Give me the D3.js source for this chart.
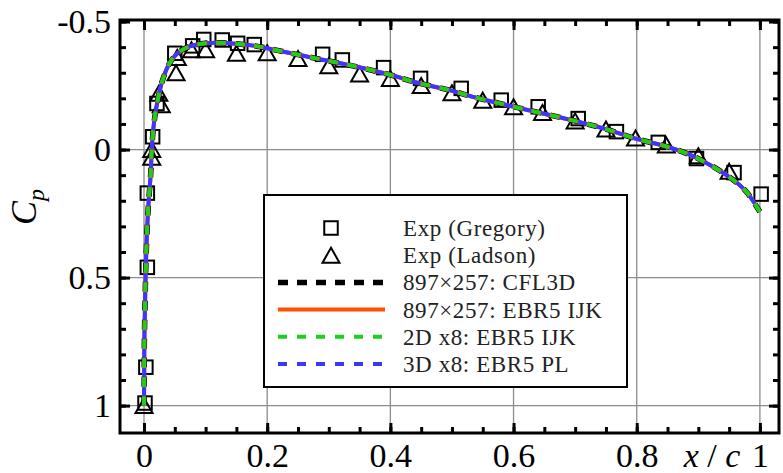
<!DOCTYPE html>
<html>
<head>
<meta charset="utf-8">
<script src="https://cdn.jsdelivr.net/npm/d3@7"></script>
<style>
  body { margin: 0; background: #fff; }
  svg { display: block; }
</style>
</head>
<body>
<script>
// Valores (x/c, Cp)
const gregoryX  = [0.0016, 0.003, 0.0054, 0.0054, 0.014, 0.021, 0.050, 0.079, 0.097, 0.127, 0.152, 0.179,
                   0.290, 0.322, 0.389, 0.449, 0.515, 0.580, 0.640, 0.705, 0.767, 0.835, 0.897, 0.958, 1.002];
const gregoryCp = [0.99, 0.85, 0.46, 0.17, -0.05, -0.18, -0.376, -0.405, -0.43, -0.428, -0.415, -0.41,
                   -0.372, -0.35, -0.32, -0.278, -0.239, -0.193, -0.167, -0.121, -0.07, -0.028, 0.035, 0.09, 0.174];

const ladsonX  = [0.0, 0.0125, 0.0125, 0.024, 0.028, 0.052, 0.054, 0.077, 0.100, 0.150, 0.200, 0.250, 0.300,
                  0.350, 0.400, 0.450, 0.500, 0.550, 0.600, 0.647, 0.700, 0.750, 0.798, 0.848, 0.900, 0.950];
const ladsonCp = [1.0, 0.0, 0.03, -0.22, -0.175, -0.30, -0.36, -0.39, -0.39, -0.376, -0.378, -0.356, -0.327,
                  -0.295, -0.278, -0.25, -0.222, -0.193, -0.167, -0.145, -0.112, -0.08, -0.045, -0.018, 0.024, 0.085];

// Las cuatro soluciones CFD coinciden a la escala de la figura
const cfdX  = [0.0, 0.0003, 0.0006, 0.0016, 0.0027, 0.0044, 0.007, 0.011, 0.0125, 0.016, 0.022, 0.030, 0.041,
               0.054, 0.073, 0.100, 0.122, 0.154, 0.180, 0.225, 0.279, 0.333, 0.401, 0.442, 0.496, 0.534,
               0.599, 0.642, 0.696, 0.750, 0.798, 0.848, 0.881, 0.919, 0.957, 0.978, 1.0];
const cfdCp = [1.0, 0.87, 0.74, 0.61, 0.48, 0.35, 0.22, 0.09, 0.0, -0.10, -0.19, -0.27, -0.335,
               -0.375, -0.402, -0.415, -0.417, -0.412, -0.405, -0.383, -0.356, -0.330, -0.291, -0.262, -0.232, -0.206,
               -0.168, -0.144, -0.114, -0.080, -0.043, -0.012, 0.015, 0.060, 0.119, 0.165, 0.243];

const xTicks = [0, 0.2, 0.4, 0.6, 0.8, 1];
const yTicks = [-0.5, 0, 0.5, 1];
const xMinor = d3.range(0, 1.0001, 0.05);
const yMinor = d3.range(-0.5, 1.0001, 0.1);

const legendLabels = ["Exp (Gregory)", "Exp (Ladson)", "897×257: CFL3D", "897×257: EBR5 IJK",
                      "2D x8: EBR5 IJK", "3D x8: EBR5 PL"];

const width = 783, height = 473;
const L = 120, R = 779, T = 20, B = 433;
const serif = "'Liberation Serif', 'DejaVu Serif', serif";
const tickFont = 34;

const x = d3.scaleLinear().domain([-0.039, 1.031]).range([L, R]);
const y = d3.scaleLinear().domain([-0.506, 1.107]).range([T, B]);

const svg = d3.select("body").append("svg")
  .attr("width", width)
  .attr("height", height)
  .style("font-family", serif);

// Rejilla
const grid = svg.append("g").attr("stroke", "#8c8c8c").attr("stroke-width", 1.3);
grid.selectAll("line.v").data(xTicks).join("line")
  .attr("x1", d => x(d)).attr("x2", d => x(d)).attr("y1", T).attr("y2", B);
grid.selectAll("line.h").data(yTicks.filter(d => d > -0.5)).join("line")
  .attr("x1", L).attr("x2", R).attr("y1", d => y(d)).attr("y2", d => y(d));

// Marcadores experimentales
const sq = 13.5;
const triPath = "M0,-7.5L8.5,7.5L-8.5,7.5Z";

svg.append("g")
  .selectAll("rect")
  .data(d3.zip(gregoryX, gregoryCp))
  .join("rect")
  .attr("x", d => x(d[0]) - sq / 2)
  .attr("y", d => y(d[1]) - sq / 2)
  .attr("width", sq).attr("height", sq)
  .attr("fill", "none").attr("stroke", "#000").attr("stroke-width", 2);

svg.append("g")
  .selectAll("path")
  .data(d3.zip(ladsonX, ladsonCp))
  .join("path")
  .attr("d", triPath)
  .attr("transform", d => `translate(${x(d[0])},${y(d[1])})`)
  .attr("fill", "none").attr("stroke", "#000").attr("stroke-width", 2);

// Curvas CFD
const series = [
  {label: legendLabels[2], color: "#000", width: 5.5, dash: "10,9", offset: 0},
  {label: legendLabels[3], color: "#ff4f00", width: 4, dash: null, offset: 0},
  {label: legendLabels[4], color: "#1ccf1c", width: 4, dash: "9,10", offset: 0},
  {label: legendLabels[5], color: "#3838ff", width: 4, dash: "9,10", offset: 9.5},
];

const line = d3.line()
  .x(d => x(d[0]))
  .y(d => y(d[1]))
  .curve(d3.curveCatmullRom.alpha(0.5));

const cfd = d3.zip(cfdX, cfdCp);
svg.append("g")
  .selectAll("path")
  .data(series)
  .join("path")
  .attr("d", () => line(cfd))
  .attr("fill", "none")
  .attr("stroke", d => d.color)
  .attr("stroke-width", d => d.width)
  .attr("stroke-dasharray", d => d.dash)
  .attr("stroke-dashoffset", d => d.offset);

// Ejes: marcas hacia dentro en los cuatro lados
function styleAxis(g) {
  g.select(".domain").remove();
  g.selectAll(".tick line").attr("stroke", "#000").attr("stroke-width", 3);
  g.selectAll(".tick text").attr("fill", "#000").attr("font-size", tickFont).attr("font-family", serif);
}

svg.append("g").attr("transform", `translate(0,${B})`)
  .call(d3.axisBottom(x).tickValues(xMinor).tickSize(-6).tickFormat(""))
  .call(styleAxis);
svg.append("g").attr("transform", `translate(0,${B})`)
  .call(d3.axisBottom(x).tickValues(xTicks).tickSize(-10).tickPadding(10).tickFormat(d => String(d)))
  .call(styleAxis);
svg.append("g").attr("transform", `translate(0,${T})`)
  .call(d3.axisTop(x).tickValues(xMinor).tickSize(-6).tickFormat(""))
  .call(styleAxis);
svg.append("g").attr("transform", `translate(0,${T})`)
  .call(d3.axisTop(x).tickValues(xTicks).tickSize(-10).tickFormat(""))
  .call(styleAxis);

svg.append("g").attr("transform", `translate(${L},0)`)
  .call(d3.axisLeft(y).tickValues(yMinor).tickSize(-6).tickFormat(""))
  .call(styleAxis);
svg.append("g").attr("transform", `translate(${L},0)`)
  .call(d3.axisLeft(y).tickValues(yTicks).tickSize(-10).tickPadding(9).tickFormat(d => String(d)))
  .call(styleAxis);
svg.append("g").attr("transform", `translate(${R},0)`)
  .call(d3.axisRight(y).tickValues(yMinor).tickSize(-6).tickFormat(""))
  .call(styleAxis);
svg.append("g").attr("transform", `translate(${R},0)`)
  .call(d3.axisRight(y).tickValues(yTicks).tickSize(-10).tickFormat(""))
  .call(styleAxis);

// Marco
svg.append("rect")
  .attr("x", L).attr("y", T).attr("width", R - L).attr("height", B - T)
  .attr("fill", "none").attr("stroke", "#000").attr("stroke-width", 3);

// Títulos de ejes
const xl = svg.append("text")
  .attr("x", 712).attr("y", B + 10)
  .attr("dy", "0.71em")
  .attr("text-anchor", "middle")
  .attr("font-size", tickFont);
xl.append("tspan").attr("font-style", "italic").text("x");
xl.append("tspan").text(" / ");
xl.append("tspan").attr("font-style", "italic").text("c");

const yl = svg.append("text")
  .attr("transform", "translate(36,207) rotate(-90)")
  .attr("text-anchor", "middle")
  .attr("font-size", 36);
yl.append("tspan").attr("font-style", "italic").text("C");
yl.append("tspan").attr("font-style", "italic").attr("font-size", 24).attr("dy", 8).text("p");

// Leyenda
const legX = 264, legY = 195, legW = 363, legH = 192, rowY0 = 228, rowStep = 27.2;
const textX = 403;
const legend = svg.append("g");
legend.append("rect")
  .attr("x", legX).attr("y", legY).attr("width", legW).attr("height", legH)
  .attr("fill", "#fff").attr("stroke", "#000").attr("stroke-width", 2);

legend.append("rect")
  .attr("x", 331 - sq / 2).attr("y", rowY0 - sq / 2)
  .attr("width", sq).attr("height", sq)
  .attr("fill", "none").attr("stroke", "#000").attr("stroke-width", 2);
legend.append("path")
  .attr("d", triPath)
  .attr("transform", `translate(331,${rowY0 + rowStep})`)
  .attr("fill", "none").attr("stroke", "#000").attr("stroke-width", 2);

legend.selectAll("line")
  .data(series)
  .join("line")
  .attr("x1", 278).attr("x2", 385)
  .attr("y1", (d, i) => rowY0 + (i + 2) * rowStep)
  .attr("y2", (d, i) => rowY0 + (i + 2) * rowStep)
  .attr("stroke", d => d.color)
  .attr("stroke-width", d => d.width)
  .attr("stroke-dasharray", d => d.dash);

legend.selectAll("text")
  .data(legendLabels)
  .join("text")
  .attr("x", textX)
  .attr("y", (d, i) => rowY0 + i * rowStep)
  .attr("dy", "0.35em")
  .attr("font-size", 23)
  .attr("letter-spacing", 0.6)
  .attr("fill", "#222")
  .text(d => d);
</script>
</body>
</html>
